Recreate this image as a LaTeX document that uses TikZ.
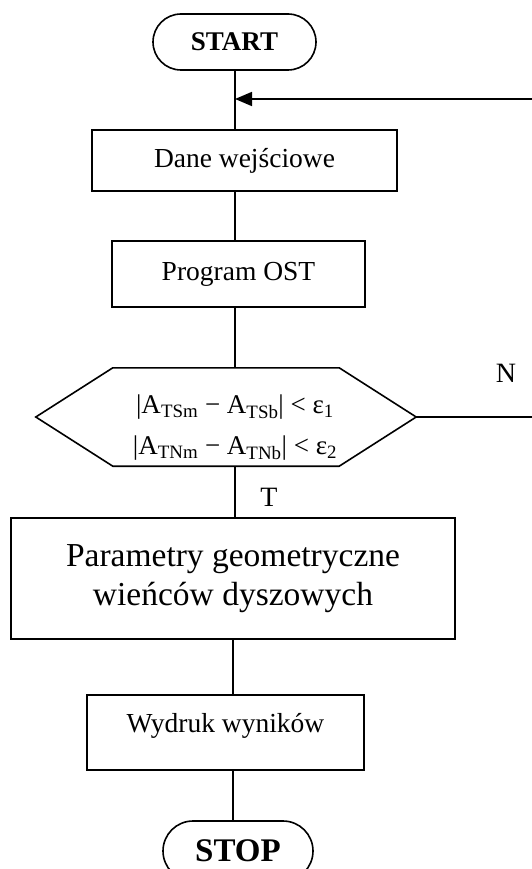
\documentclass[tikz,border=0pt]{standalone}
\usepackage{fontspec}
\setmainfont{Liberation Serif}
\usetikzlibrary{arrows.meta}
\begin{document}
\begin{tikzpicture}[x=1pt,y=-1pt,
  line/.style={line width=1.6pt},
  box/.style={draw, line width=1.6pt, inner sep=0pt, align=center, font=\fontsize{27.5}{33}\selectfont},
  term/.style={draw, line width=1.6pt, inner sep=0pt, font=\bfseries\fontsize{27}{32}\selectfont},
  lbl/.style={font=\fontsize{28}{33}\selectfont, inner sep=0pt}]
\useasboundingbox (0,0) rectangle (531,869);
% nodes
\node[term, rounded corners=28pt, minimum width=163pt, minimum height=56pt] (start) at (234.5,42) {START};
\node[box, minimum width=305pt, minimum height=61pt] (dane) at (244.5,160.5) {Dane wejściowe};
\node[box, minimum width=253pt, minimum height=66pt] (prog) at (238.5,274) {Program OST};
\node[minimum width=380pt, minimum height=98pt, inner sep=0pt] (hex) at (226,417) {};
\draw[line] (hex.west) -- ([xshift=77pt]hex.north west) -- ([xshift=-77pt]hex.north east)
  -- (hex.east) -- ([xshift=-77pt]hex.south east) -- ([xshift=77pt]hex.south west) -- cycle;
\node[align=center, inner sep=0pt, font=\fontsize{27}{41}\selectfont] (cond) at (235,428)
  {|A\textsubscript{TSm} − A\textsubscript{TSb}| < ε\textsubscript{1}\\
   |A\textsubscript{TNm} − A\textsubscript{TNb}| < ε\textsubscript{2}};
\node[box, minimum width=444pt, minimum height=121pt, font=\fontsize{33.5}{39}\selectfont] (param) at (233,578.5)
  {Parametry geometryczne\\wieńców dyszowych};
\node[box, minimum width=277pt, minimum height=75pt, text height=18pt, text depth=19pt] (wyd) at (225.5,732.5) {Wydruk wyników};
\node[term, rounded corners=30pt, minimum width=150pt, minimum height=60pt, font=\bfseries\fontsize{33}{38}\selectfont] (stop) at (238,851) {STOP};
\node[lbl] (N) at (506,373) {N};
\node[lbl] (T) at (269,497) {T};
% connectors
\coordinate (spine) at (235,0);
\coordinate (spineb) at (233,0);
\coordinate (loopx) at (540,0);
\coordinate (loopin) at (235,99);
\draw[line] (start.south -| spine) -- (dane.north -| spine);
\draw[line] (dane.south -| spine) -- (prog.north -| spine);
\draw[line] (prog.south -| spine) -- (hex.north -| spine);
\draw[line] (hex.south -| spine) -- (param.north -| spine);
\draw[line] (param.south -| spineb) -- (wyd.north -| spineb);
\draw[line] (wyd.south -| spineb) -- (stop.north -| spineb);
\draw[line, -{Triangle[length=17pt,width=14pt]}] (hex.east) -- (hex.east -| loopx) -- (loopin -| loopx) -- (loopin);
\end{tikzpicture}
\end{document}
